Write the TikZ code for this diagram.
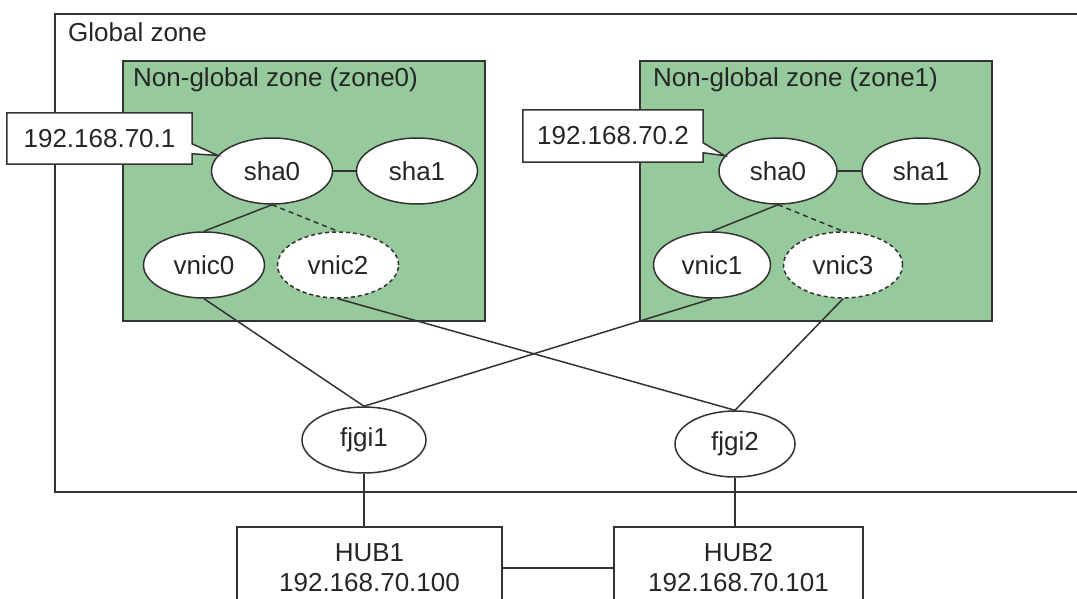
\documentclass[tikz,border=0pt]{standalone}
\usepackage{fontspec}
\setmainfont{Liberation Sans}
\usetikzlibrary{shapes.geometric,calc}
\definecolor{zonegreen}{HTML}{96C99C}
\definecolor{linec}{HTML}{333333}
\pgfdeclarelayer{back}
\pgfdeclarelayer{mid}
\pgfsetlayers{back,mid,main}
\begin{document}
\begin{tikzpicture}[x=1pt,y=-1pt,
  every node/.style={font=\fontsize{26}{30}\selectfont, text=black!85},
  zonebox/.style={draw=linec, fill=zonegreen, line width=1.5pt, inner sep=0pt},
  ifc/.style={ellipse, draw=linec, fill=white, line width=1.5pt, inner sep=0pt, minimum width=121pt, minimum height=66pt},
  vifc/.style={ifc, dashed, dash pattern=on 4pt off 3pt},
  link/.style={draw=linec, line width=1.5pt},
  dlink/.style={link, dash pattern=on 5pt off 4pt},
  calloutbox/.style={draw=linec, fill=white, line width=1.5pt},
  hubbox/.style={draw=linec, fill=white, line width=1.5pt, align=center, anchor=north, minimum height=82pt, inner sep=0pt},
  lbl/.style={anchor=west, inner sep=0pt}]
\useasboundingbox (0,0) rectangle (1077,599);
\clip (0,0) rectangle (1077,599);

% global zone
\begin{pgfonlayer}{back}
\draw[draw=linec, line width=2pt] (1090,14) -- (55,14) -- (55,492) -- (1090,492);
\node[zonebox, minimum width=362pt, minimum height=260pt] (z0) at (304,191) {};
\node[zonebox, minimum width=352pt, minimum height=260pt] (z1) at (816,191) {};
\end{pgfonlayer}
\node[lbl] (gl) at (68,32) {Global zone};
\node[lbl] (z0l) at (133,80) {Non-global zone (zone0)};
\node[lbl] (z1l) at (653,80) {Non-global zone (zone1)};

% zone0 interfaces
\node[ifc] (s0a) at (272,171) {sha0};
\node[ifc] (s1a) at (417,171) {sha1};
\node[ifc] (v0) at (204,265) {vnic0};
\node[vifc] (v2) at (338,265) {vnic2};
% zone1 interfaces
\node[ifc, minimum width=118pt] (s0b) at (778,171) {sha0};
\node[ifc, minimum width=118pt] (s1b) at (921,171) {sha1};
\node[ifc, minimum width=117pt] (v1) at (712,265) {vnic1};
\node[vifc, minimum width=119pt] (v3) at (843,265) {vnic3};
% global interfaces
\node[ifc, minimum width=124pt] (f1) at (364,440) {fjgi1};
\node[ifc, minimum width=120pt] (f2) at (735,444) {fjgi2};
% hubs
\node[hubbox, minimum width=265pt] (h1) at (369.5,526) {HUB1\\192.168.70.100};
\node[hubbox, minimum width=249pt] (h2) at (738.5,526) {HUB2\\192.168.70.101};

% links
\begin{pgfonlayer}{mid}
\draw[link] (s0a) -- (s1a);
\draw[link] (s0a.south) -- (v0.north);
\draw[dlink] (s0a.south) -- (v2.north);
\draw[link] (s0b) -- (s1b);
\draw[link] (s0b.south) -- (v1.north);
\draw[dlink] (s0b.south) -- (v3.north);
\draw[link] (v0.south) -- (f1.north);
\draw[link] (v1.south) -- (f1.north);
\draw[link] (v2.south) -- (f2.north);
\draw[link] (v3.south) -- (f2.north);
\draw[link] (f1.south) -- (f1.south |- h1.north);
\draw[link] (f2.south) -- (f2.south |- h2.north);
\draw[link] (h1.east) -- (h2.west);
\end{pgfonlayer}

% callouts
\node[minimum width=185pt, minimum height=51pt, inner sep=0pt] (c1) at (99.5,138.5) {};
\draw[calloutbox] (c1.north west) -- (c1.north east) -- ($(c1.north east)+(0,31)$) -- (s0a.164) -- ($(c1.north east)+(0,41)$) -- (c1.south east) -- (c1.south west) -- cycle;
\node (c1t) at (c1) {192.168.70.1};
\node[minimum width=180pt, minimum height=52pt, inner sep=0pt] (c2) at (613,136) {};
\draw[calloutbox] (c2.north west) -- (c2.north east) -- ($(c2.north east)+(0,33)$) -- (s0b.164) -- ($(c2.north east)+(0,43)$) -- (c2.south east) -- (c2.south west) -- cycle;
\node (c2t) at (c2) {192.168.70.2};
\end{tikzpicture}
\end{document}
